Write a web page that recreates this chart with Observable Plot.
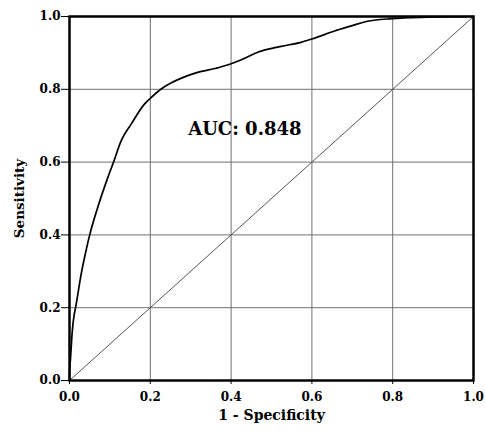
<!DOCTYPE html>
<html>
<head>
<meta charset="utf-8">
<script src="https://cdn.jsdelivr.net/npm/d3@7"></script>
<script src="https://cdn.jsdelivr.net/npm/@observablehq/plot@0.6"></script>
<style>
  html, body { margin: 0; padding: 0; background: #fff; }
</style>
</head>
<body>
<div id="chart"></div>
<script>
// ROC curve: 1 - specificity (FPR) and sensitivity (TPR)
const fpr = [0, 0.0, 0.0025, 0.007, 0.0115, 0.015, 0.029, 0.041, 0.050, 0.070, 0.095, 0.109, 0.128, 0.153, 0.186, 0.201, 0.226, 0.251, 0.28, 0.313, 0.36, 0.40, 0.435, 0.466, 0.524, 0.573, 0.602, 0.656, 0.70, 0.730, 0.797, 0.888, 1.0];
const tpr = [0, 0.02, 0.06, 0.137, 0.18, 0.20, 0.293, 0.357, 0.40, 0.476, 0.558, 0.60, 0.659, 0.705, 0.760, 0.776, 0.80, 0.817, 0.832, 0.845, 0.857, 0.870, 0.886, 0.902, 0.918, 0.929, 0.939, 0.960, 0.975, 0.985, 0.994, 0.998, 1.0];
const diagX = [0, 1];
const diagY = [0, 1];
const tickValues = [0, 0.2, 0.4, 0.6, 0.8, 1.0];
const xLabel = "1 - Specificity";
const yLabel = "Sensitivity";
const aucText = "AUC: 0.848";
const aucPos = {x: 0.434, y: 0.689};

const curve = fpr.map((x, i) => ({x, y: tpr[i]}));
const diag = diagX.map((x, i) => ({x, y: diagY[i]}));

const font = "DejaVu Serif";

const plot = Plot.plot({
  width: 486,
  height: 431,
  marginLeft: 69,
  marginRight: 13,
  marginTop: 16,
  marginBottom: 51,
  style: {fontFamily: font, fontWeight: "bold", fontSize: "12px", background: "#fff", color: "#000"},
  x: {domain: [0, 1]},
  y: {domain: [0, 1]},
  marks: [
    Plot.gridX(tickValues, {stroke: "#707070", strokeOpacity: 1, strokeWidth: 1}),
    Plot.gridY(tickValues, {stroke: "#707070", strokeOpacity: 1, strokeWidth: 1}),
    Plot.line(diag, {x: "x", y: "y", stroke: "#555", strokeWidth: 1}),
    Plot.line(curve, {x: "x", y: "y", stroke: "#000", strokeWidth: 1.7, curve: "monotone-x"}),
    Plot.axisX({ticks: tickValues, tickFormat: d3.format(".1f"), tickSize: 4, tickPadding: 7.5, label: null, stroke: "#000", fontSize: 12, fontWeight: "bold", fontFamily: font}),
    Plot.axisY({ticks: tickValues, tickFormat: d3.format(".1f"), tickSize: 8, tickPadding: 1, label: null, stroke: "#000", fontSize: 12, fontWeight: "bold", fontFamily: font}),
    Plot.frame({stroke: "#000", strokeWidth: 2.5}),
    Plot.text([xLabel], {text: d => d, frameAnchor: "bottom", dy: 35, lineAnchor: "middle", textAnchor: "middle", fontSize: 14, fontWeight: "bold", fontFamily: font}),
    Plot.text([yLabel], {text: d => d, frameAnchor: "left", dx: -50, rotate: -90, textAnchor: "middle", lineAnchor: "middle", fontSize: 13.5, fontWeight: "bold", fontFamily: font}),
    Plot.text([aucPos], {x: "x", y: "y", text: () => aucText, fontSize: 18, fontWeight: "bold", fontFamily: font})
  ]
});
document.getElementById("chart").appendChild(plot);
</script>
</body>
</html>
